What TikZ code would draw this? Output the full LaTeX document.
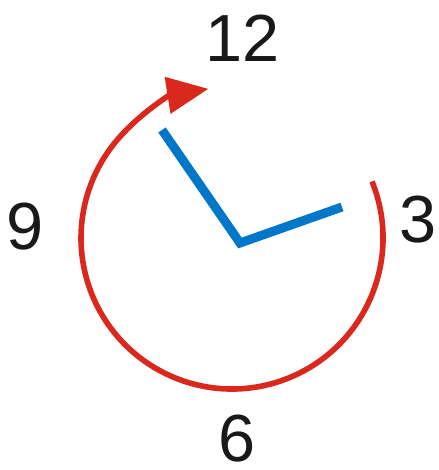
\documentclass[tikz,border=0pt]{standalone}
\usepackage{fontspec}
\setmainfont{Liberation Sans}
\usetikzlibrary{arrows.meta}

\definecolor{arcred}{HTML}{DA291C}
\definecolor{handblue}{HTML}{0077C8}

\begin{document}
\begin{tikzpicture}[
    x=0.75pt, y=0.75pt,
    every node/.style={font=\fontsize{50}{60}\selectfont, text=black!90, inner sep=0pt},
    turn/.style={
        draw=arcred,
        line width=4.2pt,
        -{Triangle[length=31pt, width=27pt]}
    },
    hand/.style={
        draw=handblue,
        line width=6.75pt,
        line join=miter
    }
]

    \useasboundingbox (0,0) rectangle (438,470);

    % Dial centre and hands
    \coordinate (dial) at (232,232);
    \coordinate (hub) at (240,227);
    \coordinate (minute) at (162,340);
    \coordinate (hour) at (342,263);

    % Numbers
    \node (n12) at (243,432) {12};
    \node (n3) at (418,250) {3};
    \node (n6) at (237,31) {6};
    \node (n9) at (25,243) {9};

    % Red arc, clockwise
    \draw[turn] (dial) ++(22:151) arc[start angle=22, end angle=-261, radius=151];

    % Hands
    \draw[hand] (minute) -- (hub) -- (hour);

\end{tikzpicture}
\end{document}
